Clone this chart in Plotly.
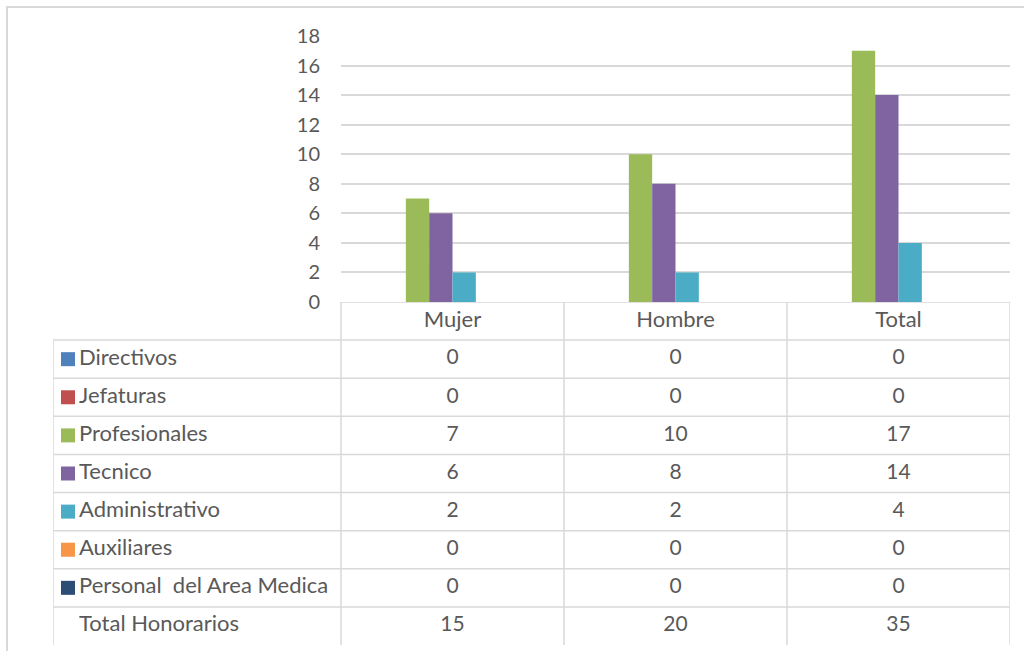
import plotly.graph_objects as go

# Categories (columns of the data table / bar groups)
categories = ["Mujer", "Hombre", "Total"]

# Series (rows of the data table)
series_names = [
    "Directivos",
    "Jefaturas",
    "Profesionales",
    "Tecnico",
    "Administrativo",
    "Auxiliares",
    "Personal  del Area Medica",
    "Total Honorarios",
]
directivos = [0, 0, 0]
jefaturas = [0, 0, 0]
profesionales = [7, 10, 17]
tecnico = [6, 8, 14]
administrativo = [2, 2, 4]
auxiliares = [0, 0, 0]
personal_medica = [0, 0, 0]
total_honorarios = [15, 20, 35]

series_values = [directivos, jefaturas, profesionales, tecnico,
                 administrativo, auxiliares, personal_medica, total_honorarios]
series_colors = ["#4F81BD", "#C0504D", "#9BBB59", "#8064A2",
                 "#4BACC6", "#F79646", "#2C4D75", "rgba(0,0,0,0)"]

y_ticks = [0, 2, 4, 6, 8, 10, 12, 14, 16, 18]

W, H = 1024, 651
FONT = "Lato"
TXT = "#595959"
GRID = "#D9D9D9"
LABEL_SIZE = 22
NUM_SIZE = 21

# pixel layout of the chart area
plot_left, plot_right = 341, 1010
plot_top, plot_bottom = 36, 302
table_left, table_bottom = 53, 645
col_w = (plot_right - plot_left) / len(categories)
label_span = (plot_left - table_left) / col_w
tx_min = -0.5 - label_span
tx_max = len(categories) - 0.5
n_rows = len(series_names)


def px_to_tx(px):
    return tx_min + (px - table_left) / col_w


fig = go.Figure()

# clustered bars
for name, vals, col in zip(series_names, series_values, series_colors):
    fig.add_trace(go.Bar(
        x=categories, y=vals, name=name,
        marker=dict(color=col, line=dict(width=0)),
        xaxis="x", yaxis="y", showlegend=False,
    ))

# data table: header row
fig.add_trace(go.Scatter(
    x=list(range(len(categories))), y=[0] * len(categories), text=categories,
    mode="text", textfont=dict(family=FONT, size=LABEL_SIZE, color=TXT),
    xaxis="x2", yaxis="y2", showlegend=False, hoverinfo="skip",
))

# data table: value cells
for r, vals in enumerate(series_values, start=1):
    fig.add_trace(go.Scatter(
        x=list(range(len(categories))), y=[r] * len(categories),
        text=[str(v) for v in vals],
        mode="text", textfont=dict(family=FONT, size=NUM_SIZE, color=TXT),
        xaxis="x2", yaxis="y2", showlegend=False, hoverinfo="skip",
    ))

# data table: row labels
fig.add_trace(go.Scatter(
    x=[px_to_tx(79)] * n_rows, y=list(range(1, n_rows + 1)), text=series_names,
    mode="text", textposition="middle right",
    textfont=dict(family=FONT, size=LABEL_SIZE, color=TXT),
    xaxis="x2", yaxis="y2", showlegend=False, hoverinfo="skip",
))

# data table: legend keys
key_rows = [i + 1 for i, c in enumerate(series_colors) if not c.startswith("rgba")]
fig.add_trace(go.Scatter(
    x=[px_to_tx(68)] * len(key_rows), y=key_rows,
    mode="markers",
    marker=dict(symbol="square", size=14, color=[series_colors[r - 1] for r in key_rows],
                line=dict(width=0)),
    xaxis="x2", yaxis="y2", showlegend=False, hoverinfo="skip",
))

# table borders
shapes = []
line = dict(color=GRID, width=1.5)
shapes.append(dict(type="line", xref="x2", yref="y2", x0=-0.5, x1=tx_max,
                   y0=-0.5, y1=-0.5, line=line))
for k in range(n_rows):
    y = k + 0.5
    shapes.append(dict(type="line", xref="x2", yref="y2", x0=tx_min, x1=tx_max,
                       y0=y, y1=y, line=line))
shapes.append(dict(type="line", xref="x2", yref="y2", x0=tx_min, x1=tx_min,
                   y0=0.5, y1=n_rows + 0.5, line=line))
for k in range(len(categories) + 1):
    x = k - 0.5
    shapes.append(dict(type="line", xref="x2", yref="y2", x0=x, x1=x,
                       y0=-0.5, y1=n_rows + 0.5, line=line))

# chart area border
shapes.append(dict(type="path", xref="paper", yref="paper",
                   path=f"M {7 / W},-0.01 L {7 / W},{1 - 7 / H} L 1.01,{1 - 7 / H}",
                   line=dict(color=GRID, width=2)))

fig.update_layout(
    width=W, height=H,
    margin=dict(l=0, r=0, t=0, b=0, autoexpand=False),
    paper_bgcolor="white", plot_bgcolor="white",
    barmode="group", bargap=0.163, bargroupgap=0,
    showlegend=False,
    font=dict(family=FONT, size=20, color=TXT),
    xaxis=dict(domain=[plot_left / W, plot_right / W], anchor="y",
               type="category", range=[-0.5, len(categories) - 0.5], automargin=False,
               showticklabels=False, showgrid=False, zeroline=False, showline=False),
    yaxis=dict(domain=[1 - plot_bottom / H, 1 - plot_top / H], anchor="x",
               range=[0, 18], tickvals=y_ticks, showgrid=True, gridcolor=GRID,
               gridwidth=1.5, zeroline=False, showline=False, ticks="",
               ticklabelstandoff=20, automargin=False,
               tickfont=dict(family=FONT, size=20, color=TXT)),
    xaxis2=dict(domain=[table_left / W, plot_right / W], anchor="y2",
                range=[tx_min, tx_max], visible=False, automargin=False),
    yaxis2=dict(domain=[1 - table_bottom / H, 1 - plot_bottom / H], anchor="x2",
                range=[n_rows + 0.5, -0.5], visible=False, automargin=False),
    shapes=shapes,
)

fig.write_html("out.html")
